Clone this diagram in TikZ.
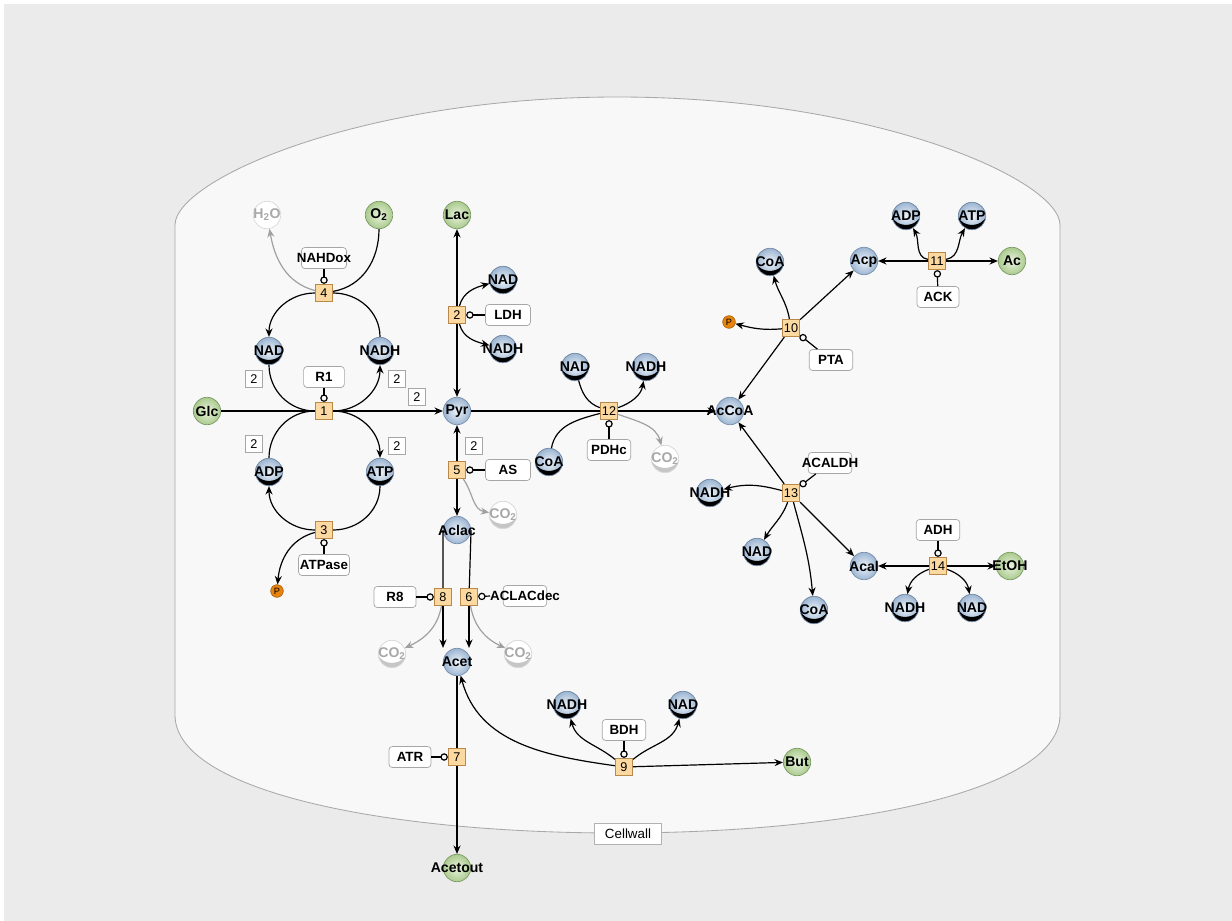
\documentclass[tikz,border=0pt]{standalone}
\usepackage{fontspec}
\setmainfont{Liberation Sans}
\usetikzlibrary{arrows.meta}
\definecolor{bg}{HTML}{EBEBEB}
\definecolor{cellfill}{HTML}{F8F8F8}
\definecolor{cellline}{HTML}{A8A8A8}
\definecolor{bluein}{HTML}{EEF4FA}
\definecolor{blueout}{HTML}{9CB5D2}
\definecolor{blueline}{HTML}{7890AC}
\definecolor{greenin}{HTML}{EAF3DE}
\definecolor{greenout}{HTML}{AACA8E}
\definecolor{greenline}{HTML}{7C9C66}
\definecolor{rxnfill}{HTML}{FCD9A0}
\definecolor{rxnline}{HTML}{B8894A}
\definecolor{porange}{HTML}{E8830E}
\definecolor{ghosttext}{HTML}{A8A8A8}
\definecolor{edgegray}{HTML}{A0A0A0}
\newcommand{\spc}[5][]{\node[#2,label={[spt,#1]center:#5}] (#3) at (#4) {};}
\begin{document}
\begin{tikzpicture}[x=0.025cm,y=0.025cm,
  >={Stealth[length=6pt,width=5pt]}, line width=0.85pt,
  spbase/.style={circle,minimum size=19.5pt,inner sep=0pt},
  spblue/.style={spbase,inner color=bluein,outer color=blueout,draw=blueline,line width=0.5pt},
  spgreen/.style={spbase,inner color=greenin,outer color=greenout,draw=greenline,line width=0.5pt},
  spcof/.style={spblue,path picture={\fill[black,even odd rule] (path picture bounding box.center) circle (9.75pt) ([yshift=3.4pt]path picture bounding box.center) ellipse (11pt and 9.75pt);}},
  spghost/.style={spbase,fill=white,draw=gray!30,line width=0.5pt},
  spghostc/.style={spghost,path picture={\fill[gray!45,even odd rule] (path picture bounding box.center) circle (9.75pt) ([yshift=3.4pt]path picture bounding box.center) ellipse (11pt and 9.75pt);}},
  spt/.style={font=\bfseries\fontsize{10}{11}\selectfont,inner sep=0pt},
  spP/.style={circle,minimum size=9pt,inner sep=0pt,fill=porange,draw=porange!70!black,line width=0.4pt,font=\fontsize{6.5}{7}\selectfont},
  rxn/.style={rectangle,minimum size=12.5pt,inner sep=0pt,fill=rxnfill,draw=rxnline,line width=0.5pt,font=\fontsize{9}{10}\selectfont},
  lbl/.style={rectangle,rounded corners=2.5pt,minimum width=31pt,minimum height=15pt,inner sep=1pt,fill=white,draw=gray!70,line width=0.5pt,font=\bfseries\fontsize{9.5}{10}\selectfont},
  stoi/.style={rectangle,minimum size=12pt,inner sep=0pt,fill=white,draw=gray!70,line width=0.5pt,font=\fontsize{9}{10}\selectfont},
  mod/.style={-{Circle[open,length=5.3pt,width=5.3pt]}},
  gedge/.style={draw=edgegray}
]
\useasboundingbox (0,0) rectangle (1232,-921);
\fill[white] (0,0) rectangle (1232,-921);
\fill[bg] (4,-4) rectangle (1232,-921);
% cell
\path[fill=cellfill,draw=cellline,line width=0.6pt] (175,-225) .. controls (175,-180) and (360,-97) .. (617.5,-97) .. controls (875,-97) and (1060,-180) .. (1060,-225) -- (1060,-715) .. controls (1060,-790) and (855,-833) .. (617.5,-833) .. controls (380,-833) and (175,-790) .. (175,-715) -- cycle;
\node[rectangle,fill=white,draw=gray!60,line width=0.5pt,minimum width=48pt,minimum height=15pt,inner sep=1pt,font=\fontsize{9.5}{10}\selectfont] (cw) at (628,-834) {Cellwall};

% species
\spc{spgreen}{Glc}{207,-411}{Glc}
\spc{spblue}{Pyr}{457,-411}{Pyr}
\spc{spgreen}{Lac}{457,-215}{Lac}
\spc{spgreen}{O2}{379,-215}{O\textsubscript{2}}
\spc[text=ghosttext]{spghost}{H2O}{267,-215}{H\textsubscript{2}O}
\spc{spcof}{NADa}{269,-351}{NAD}
\spc{spcof}{NADHa}{380,-351}{NADH}
\spc{spcof}{ADPa}{269,-472}{ADP}
\spc{spcof}{ATPa}{380,-472}{ATP}
\node[spP] (Pa) at (277,-591) {P};
\spc{spcof}{NADb}{503,-280}{NAD}
\spc{spcof}{NADHb}{503,-349}{NADH}
\spc{spcof}{NADc}{575,-367}{NAD}
\spc{spcof}{NADHc}{646,-367}{NADH}
\spc{spcof}{CoAc}{549,-462}{CoA}
\spc[text=ghosttext]{spghostc}{CO2a}{665,-459}{CO\textsubscript{2}}
\spc{spblue}{AcCoA}{730,-411}{AcCoA}
\spc[text=ghosttext]{spghostc}{CO2b}{503,-515}{CO\textsubscript{2}}
\spc{spblue}{Aclac}{457,-530}{Aclac}
\spc[text=ghosttext]{spghostc}{CO2c}{392,-654}{CO\textsubscript{2}}
\spc[text=ghosttext]{spghostc}{CO2d}{518,-654}{CO\textsubscript{2}}
\spc{spblue}{Acet}{457,-662}{Acet}
\spc{spgreen}{Acetout}{457,-868}{Acetout}
\spc{spcof}{NADHd}{567,-705}{NADH}
\spc{spcof}{NADd}{683,-705}{NAD}
\spc{spgreen}{But}{797,-762}{But}
\spc{spcof}{CoAe}{770,-262}{CoA}
\spc{spblue}{Acp}{864,-261}{Acp}
\node[spP] (Pb) at (729,-322) {P};
\spc{spcof}{ADPb}{906,-216}{ADP}
\spc{spcof}{ATPb}{972,-216}{ATP}
\spc{spgreen}{Ac}{1012,-261}{Ac}
\spc{spcof}{NADHe}{710,-493}{NADH}
\spc{spcof}{NADe}{757,-552}{NAD}
\spc{spcof}{CoAf}{814,-610}{CoA}
\spc{spblue}{Acal}{864,-566}{Acal}
\spc{spgreen}{EtOH}{1010,-566}{EtOH}
\spc{spcof}{NADHf}{905,-608}{NADH}
\spc{spcof}{NADf}{972,-608}{NAD}

% reactions
\node[rxn] (r1) at (324,-411) {1};
\node[rxn] (r2) at (457,-315) {2};
\node[rxn] (r3) at (324,-530) {3};
\node[rxn] (r4) at (324,-293) {4};
\node[rxn] (r5) at (457,-470) {5};
\node[rxn] (r6) at (469,-597) {6};
\node[rxn] (r7) at (457,-757) {7};
\node[rxn] (r8) at (443,-597) {8};
\node[rxn] (r9) at (624,-767) {9};
\node[rxn] (r10) at (791,-328) {10};
\node[rxn] (r11) at (937,-261) {11};
\node[rxn] (r12) at (609,-411) {12};
\node[rxn] (r13) at (791,-493) {13};
\node[rxn] (r14) at (938,-566) {14};

% enzyme labels
\node[lbl,minimum width=29pt] (R1) at (324,-377) {R1};
\node[lbl,minimum width=32pt] (NAHDox) at (324,-258) {\makebox[0pt]{NAHDox}};
\node[lbl,minimum width=32pt] (ATPase) at (324,-565) {ATPase};
\node[lbl,minimum width=32pt] (LDH) at (508,-315) {LDH};
\node[lbl,minimum width=32pt] (AS) at (508,-470) {AS};
\node[lbl] (PDHc) at (609,-450) {PDHc};
\node[lbl] (PTA) at (831,-360) {PTA};
\node[lbl,minimum width=30pt] (ACK) at (938,-297) {ACK};
\node[lbl] (ACALDH) at (830,-463) {\makebox[0pt]{ACALDH}};
\node[lbl] (ADH) at (938,-530) {ADH};
\node[lbl] (BDH) at (624,-730) {BDH};
\node[lbl,minimum width=30pt] (ATR) at (410,-757) {ATR};
\node[lbl,minimum width=30pt] (R8) at (395,-597) {R8};
\node[lbl] (ACLACdec) at (525,-596) {\makebox[0pt]{ACLACdec}};

% stoichiometry boxes
\node[stoi] (s1) at (254,-379) {2};
\node[stoi] (s2) at (397,-379) {2};
\node[stoi] (s3) at (417,-397) {2};
\node[stoi] (s4) at (254,-444) {2};
\node[stoi] (s5) at (397,-446) {2};
\node[stoi] (s6) at (474,-446) {2};

% left cycles
\draw (Glc) -- (r1);
\draw[->] (r1) -- (Pyr);
\draw[->] (r4) to[out=180,in=90] (NADa);
\draw (NADHa) to[out=90,in=0] (r4);
\draw (NADa) to[out=-90,in=180] (r1);
\draw[->] (r1) to[out=0,in=-90] (NADHa);
\draw (ADPa) to[out=90,in=180] (r1);
\draw[->] (r1) to[out=0,in=90] (ATPa);
\draw (ATPa) to[out=-90,in=0] (r3);
\draw[->] (r3) to[out=180,in=-90] (ADPa);
\draw[->] (r3) to[out=195,in=85] (Pa);
\draw (O2) to[out=-90,in=10] (r4);
\draw[gedge,->] (r4) to[out=165,in=-80] (H2O);
\draw[mod] (R1) -- (r1);
\draw[mod] (NAHDox) -- (r4);
\draw[mod] (ATPase) -- (r3);

% lactate / acetolactate
\draw[->] (r2) -- (Lac);
\draw[->] (r2) -- (Pyr);
\draw[->] (r2) to[out=75,in=195] (NADb);
\draw[->] (r2) to[out=-75,in=165] (NADHb);
\draw[mod] (LDH) -- (r2);
\draw[->] (r5) -- (Pyr);
\draw[->] (r5) -- (Aclac);
\draw[gedge,->] (r5) to[out=-55,in=170] (CO2b);
\draw[mod] (AS) -- (r5);
\draw (Aclac.west) -- (r8);
\draw[->] (r8) -- (r8 |- Acet.north);
\draw (Aclac.east) -- (r6);
\draw[->] (r6) -- (r6 |- Acet.north);
\draw[gedge,->] (r8) to[out=-100,in=25] (CO2c);
\draw[gedge,->] (r6) to[out=-80,in=155] (CO2d);
\draw[mod] (R8) -- (r8);
\draw[mod] ([xshift=-9pt]ACLACdec.west) -- (r6);
\draw (Acet) -- (r7);
\draw[->] (r7) -- (Acetout);
\draw[mod] (ATR) -- (r7);

% butanediol
\draw[->] (r9) to[out=172,in=-75] (Acet);
\draw[->] (r9) -- (But);
\draw[->] (r9) to[out=140,in=-75] (NADHd);
\draw[->] (r9) to[out=40,in=-105] (NADd);
\draw[mod] (BDH) -- (r9);

% PDHc
\draw (Pyr) -- (r12);
\draw[->] (r12) -- (AcCoA);
\draw (NADc) to[out=-75,in=160] (r12);
\draw[->] (r12) to[out=20,in=-100] (NADHc);
\draw (CoAc) to[out=80,in=195] (r12);
\draw[gedge,->] (r12) to[out=-20,in=105] (CO2a);
\draw[mod] (PDHc) -- (r12);

% PTA / ACK
\draw[->] (r10) -- (AcCoA);
\draw[->] (r10) -- (Acp);
\draw[->] (r10) to[out=100,in=-75] (CoAe);
\draw[->] (r10) to[out=185,in=-15] (Pb);
\draw[mod] (PTA) -- (r10);
\draw[->] (r11) -- (Acp);
\draw[->] (r11) -- (Ac);
\draw[->] (r11) to[out=170,in=-60] (ADPb);
\draw[->] (r11) to[out=10,in=-120] (ATPb);
\draw[mod] (ACK) -- (r11);

% ACALDH / ADH
\draw[->] (r13) -- (AcCoA);
\draw[->] (r13) to[out=165,in=15] (NADHe);
\draw[->] (r13) to[out=-110,in=60] (NADe);
\draw[->] (r13) to[out=-75,in=95] (CoAf);
\draw[->] (r13) -- (Acal);
\draw[mod] (ACALDH) -- (r13);
\draw[->] (r14) -- (Acal);
\draw[->] (r14) -- (EtOH);
\draw[->] (r14) to[out=200,in=80] (NADHf);
\draw[->] (r14) to[out=-20,in=100] (NADf);
\draw[mod] (ADH) -- (r14);
\end{tikzpicture}
\end{document}
